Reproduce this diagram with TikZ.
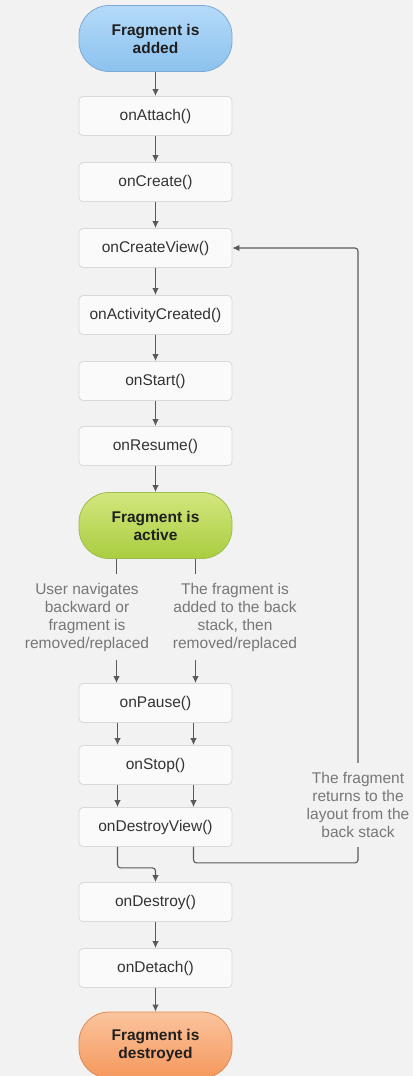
\documentclass[tikz,border=0pt]{standalone}
\usepackage{fontspec}
\setmainfont{Liberation Sans}
\usepackage{tikz}
\usetikzlibrary{arrows.meta}

\definecolor{bg}{HTML}{F2F2F2}
\definecolor{boxfill}{HTML}{FAFAFA}
\definecolor{boxline}{HTML}{D9D9D9}
\definecolor{linegrey}{HTML}{5A5A5A}
\definecolor{notegrey}{HTML}{777777}
\definecolor{addtop}{HTML}{B5DAF8}
\definecolor{addbot}{HTML}{8CC2EF}
\definecolor{addline}{HTML}{7EA9D4}
\definecolor{acttop}{HTML}{D2E77E}
\definecolor{actbot}{HTML}{AACD40}
\definecolor{actline}{HTML}{9CBE48}
\definecolor{destop}{HTML}{FBC49E}
\definecolor{desbot}{HTML}{F5985C}
\definecolor{desline}{HTML}{DF8A55}

\begin{document}
\begin{tikzpicture}[x=1pt, y=-1pt,
    state/.style={rounded corners=30pt, minimum width=153pt, minimum height=66pt, align=center,
      font=\fontsize{15.5}{18}\selectfont\bfseries, text=black!88, line width=0.8pt},
    call/.style={rounded corners=4pt, minimum width=153pt, minimum height=39pt, fill=boxfill,
      draw=boxline, line width=0.8pt, font=\fontsize{15.5}{18}\selectfont, text=black!80},
    note/.style={align=center, fill=bg, inner xsep=3pt, inner ysep=9pt,
      font=\fontsize{15.5}{18}\selectfont, text=notegrey},
    arr/.style={draw=linegrey, line width=1.1pt, -{Latex[length=7pt,width=6.5pt]}}]
      \fill [bg] (0, 0) rectangle (413, 1076);
      \useasboundingbox (0, 0) rectangle (413, 1076);

      % States
      \node [state, draw=addline, top color=addtop, bottom color=addbot] (added) at (155.5, 38.5) {Fragment is\\added};
      \node [state, draw=actline, top color=acttop, bottom color=actbot] (active) at (155.5, 525.5) {Fragment is\\active};
      \node [state, draw=desline, top color=destop, bottom color=desbot] (destroyed) at (155.5, 1045) {Fragment is\\destroyed};

      % Callbacks
      \node [call] (attach) at (155.5, 116) {onAttach()};
      \node [call] (create) at (155.5, 182) {onCreate()};
      \node [call] (cview) at (155.5, 248) {onCreateView()};
      \node [call] (acreated) at (155.5, 315) {onActivityCreated()};
      \node [call] (start) at (155.5, 381) {onStart()};
      \node [call] (resume) at (155.5, 446) {onResume()};
      \node [call] (pause) at (155.5, 703) {onPause()};
      \node [call] (stop) at (155.5, 765) {onStop()};
      \node [call] (dview) at (155.5, 827) {onDestroyView()};
      \node [call] (destroy) at (155.5, 902) {onDestroy()};
      \node [call] (detach) at (155.5, 968) {onDetach()};
      \coordinate (back) at (358, 248);

      % Arrows
      \draw [arr] (added) -- (attach);
      \draw [arr] (attach) -- (create);
      \draw [arr] (create) -- (cview);
      \draw [arr] (cview) -- (acreated);
      \draw [arr] (acreated) -- (start);
      \draw [arr] (start) -- (resume);
      \draw [arr] (resume) -- (active);
      \draw [arr] ([xshift=-39pt]active.south) -- ([xshift=-39pt]pause.north);
      \draw [arr] ([xshift=40pt]active.south) -- ([xshift=40pt]pause.north);
      \draw [arr] ([xshift=-38pt]pause.south) -- ([xshift=-38pt]stop.north);
      \draw [arr] ([xshift=38pt]pause.south) -- ([xshift=38pt]stop.north);
      \draw [arr] ([xshift=-38pt]stop.south) -- ([xshift=-38pt]dview.north);
      \draw [arr] ([xshift=38pt]stop.south) -- ([xshift=38pt]dview.north);
      \draw [arr, rounded corners=3pt] ([xshift=-38pt]dview.south) -- ++(0, 21) -| (destroy.north);
      \draw [arr, rounded corners=3pt] ([xshift=38pt]dview.south) -- ++(0, 16) -| (back) -- (cview.east);
      \draw [arr] (destroy) -- (detach);
      \draw [arr] (detach) -- (destroyed);

      % Notes over the lines
      \node [note] at (87, 617) {User navigates\\backward or\\fragment is\\removed/replaced};
      \node [note] at (235, 617) {The fragment is\\added to the back\\stack, then\\removed/replaced};
      \node [note] at (358, 805) {The fragment\\returns to the\\layout from the\\back stack};
    \end{tikzpicture}
\end{document}
